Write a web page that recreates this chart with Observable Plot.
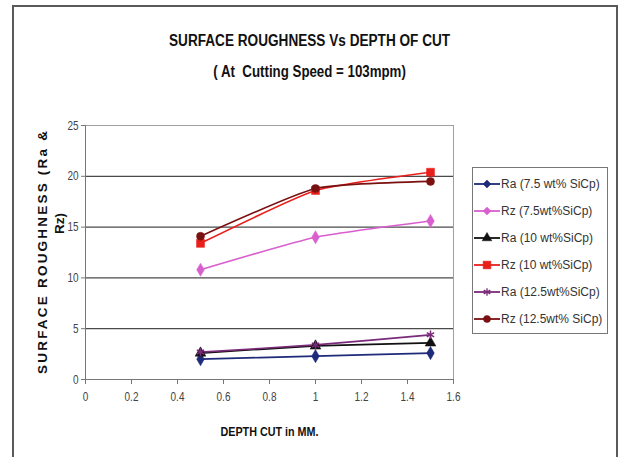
<!DOCTYPE html>
<html><head><meta charset="utf-8">
<script src="https://cdn.jsdelivr.net/npm/d3@7"></script>
<script src="https://cdn.jsdelivr.net/npm/@observablehq/plot@0.6"></script>
<style>
body{margin:0;background:#fff;}
#wrap{position:relative;width:619px;height:457px;overflow:hidden;background:#fff;font-family:"Liberation Sans",Arial,sans-serif;}
#frame{position:absolute;left:12px;top:5px;width:606px;height:470px;border:2px solid #5a5a5a;box-sizing:border-box;}
#title,#subtitle{position:absolute;left:0;width:619px;text-align:center;font-weight:bold;color:#111;transform:scaleX(0.85);transform-origin:310px 0;}
#title{top:32px;font-size:16px;}
#subtitle{top:63px;font-size:16px;transform:scaleX(0.83);}
#chart{position:absolute;left:0;top:100px;}
#legend{position:absolute;left:472px;top:167px;width:136px;height:167px;border:1px solid #777;box-sizing:border-box;background:#fff;}
.row{position:absolute;left:0;height:14px;display:flex;align-items:center;font-size:12.5px;color:#333;white-space:nowrap;}
.row svg{margin-left:1px;margin-right:1px;}
.row span{display:inline-block;transform:scaleX(0.96);transform-origin:0 50%;}
</style></head>
<body><div id="wrap">
<div id="frame"></div>
<div id="title">SURFACE ROUGHNESS Vs DEPTH OF CUT</div>
<div id="subtitle">( At&nbsp; Cutting Speed = 103mpm)</div>
<div id="chart"></div>
<div id="legend"></div>
</div>
<script>
const depth = [0.5, 1, 1.5];
const seriesNames = ["Ra (7.5 wt% SiCp)", "Rz (7.5wt%SiCp)", "Ra (10 wt%SiCp)", "Rz (10 wt%SiCp)", "Ra (12.5wt%SiCp)", "Rz (12.5wt% SiCp)"];
const ra75 = [2.0, 2.3, 2.6];
const rz75 = [10.8, 14.0, 15.6];
const ra10 = [2.6, 3.3, 3.6];
const rz10 = [13.4, 18.6, 20.4];
const ra125 = [2.7, 3.4, 4.4];
const rz125 = [14.1, 18.8, 19.5];
const xTicks = [0, 0.2, 0.4, 0.6, 0.8, 1, 1.2, 1.4, 1.6];
const yTicks = [0, 5, 10, 15, 20, 25];
const seriesColors = ["#1e2a7a", "#d95fcf", "#111111", "#e8201c", "#7a2a78", "#7a1010"];
const seriesSymbols = ["diamond", "diamond", "triangle", "square", "asterisk", "circle"];
const seriesValues = [ra75, rz75, ra10, rz10, ra125, rz125];

const table = seriesNames.flatMap((s, i) => depth.map((d, j) => ({series: s, idx: i, depth: d, value: seriesValues[i][j]})));

const marks = [
  Plot.ruleY([5, 10, 15, 20], {stroke: "#4a4a4a", strokeWidth: 1.3}),
  Plot.ruleY([25], {stroke: "#a0a0a0"}),
  Plot.ruleX([1.6], {stroke: "#a0a0a0"}),
  Plot.ruleX([0], {stroke: "#777"}),
  Plot.ruleY([0], {stroke: "#777"}),
  Plot.axisY({ticks: yTicks, tickSize: 4, tickPadding: 3, stroke: "#777", label: null, fontSize: 12.5, tickFormat: d => String(d)}),
  Plot.axisX({ticks: xTicks, tickSize: 5, tickPadding: 8, stroke: "#777", label: null, fontSize: 12.5, tickFormat: d => String(d)}),
];
seriesNames.forEach((s, i) => {
  const rows = table.filter(r => r.idx === i);
  marks.push(Plot.line(rows, {x: "depth", y: "value", stroke: seriesColors[i], strokeWidth: 1.7, curve: "cardinal", tension: 0.5}));
});
seriesNames.forEach((s, i) => {
  const rows = table.filter(r => r.idx === i);
  const sym = seriesSymbols[i];
  const stroked = sym === "asterisk";
  marks.push(Plot.dot(rows, {x: "depth", y: "value", symbol: sym,
    r: sym === "square" ? 4.5 : 4,
    fill: stroked ? "none" : seriesColors[i],
    stroke: seriesColors[i], strokeWidth: stroked ? 1.5 : 0.5}));
});
marks.push(Plot.text(["SURFACE ROUGHNESS (Ra &"], {frameAnchor: "left", textAnchor: "middle", rotate: -90, dx: -43, fontWeight: "bold", fontSize: 13.5, fill: "#111", className: "ylab1"}));
marks.push(Plot.text(["Rz)"], {frameAnchor: "left", textAnchor: "middle", rotate: -90, dx: -26, dy: -29, fontWeight: "bold", fontSize: 13.5, fill: "#111", className: "ylab2"}));
marks.push(Plot.text(["DEPTH CUT in MM."], {frameAnchor: "bottom", dy: 56, fontWeight: "bold", fontSize: 12.5, fill: "#111", className: "xlab"}));

const chart = Plot.plot({
  width: 619, height: 357,
  marginLeft: 85, marginRight: 166, marginTop: 25, marginBottom: 78,
  x: {domain: [0, 1.6]},
  y: {domain: [0, 25]},
  style: {fontFamily: '"Liberation Sans",Arial,sans-serif', color: "#444", background: "transparent", overflow: "visible"},
  marks
});
d3.select(chart).selectAll(".ylab1 text").attr("textLength", 243).attr("lengthAdjust", "spacing");
d3.select(chart).selectAll(".xlab text").attr("textLength", 98).attr("lengthAdjust", "spacingAndGlyphs");
d3.select(chart).selectAll("[aria-label='x-axis tick label'] text, [aria-label='y-axis tick label'] text")
  .attr("transform", function() { return (this.getAttribute("transform") || "") + " scale(0.8,1)"; });
document.getElementById("chart").appendChild(chart);

// legend
const legend = d3.select("#legend");
const rowY = [9, 36, 63, 90, 117, 144];
seriesNames.forEach((s, i) => {
  const row = legend.append("div").attr("class", "row").style("top", rowY[i] + "px");
  const svg = row.append("svg").attr("width", 26).attr("height", 14);
  svg.append("line").attr("x1", 0).attr("x2", 26).attr("y1", 7).attr("y2", 7).attr("stroke", seriesColors[i]).attr("stroke-width", 1.8);
  const sym = seriesSymbols[i];
  const symObj = {diamond: d3.symbolDiamond2, triangle: d3.symbolTriangle, square: d3.symbolSquare, asterisk: d3.symbolAsterisk, circle: d3.symbolCircle}[sym];
  const stroked = sym === "asterisk";
  svg.append("path").attr("d", d3.symbol(symObj, sym === "square" ? 60 : 40)()).attr("transform", "translate(13,7)")
    .attr("fill", stroked ? "none" : seriesColors[i]).attr("stroke", seriesColors[i]).attr("stroke-width", stroked ? 1.3 : 0.5);
  row.append("span").text(s);
});
</script>
</body></html>
